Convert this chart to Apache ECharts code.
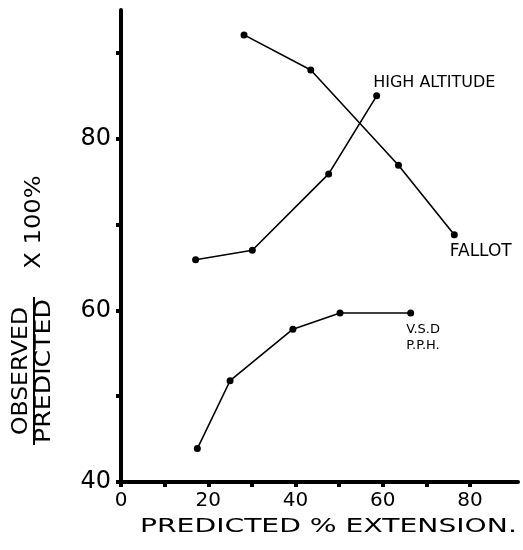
<!DOCTYPE html>
<html><head><meta charset="utf-8">
<script src="https://cdn.jsdelivr.net/npm/echarts@6/dist/echarts.min.js"></script>
<style>html,body{margin:0;padding:0;background:#fff}#c{width:523px;height:550px}</style>
</head><body><div id="c"></div>
<script>
const fallotX = [28.2, 43.5, 63.6, 76.4];
const fallotY = [92.1, 88.0, 76.9, 68.8];
const highX = [17.1, 30.1, 47.6, 58.6];
const highY = [65.9, 67.0, 75.9, 85.0];
const vsdX = [17.5, 25.0, 39.4, 50.2, 66.4];
const vsdY = [43.9, 51.8, 57.8, 59.7, 59.7];
const xTicks = [0, 10, 20, 30, 40, 50, 60, 70, 80];
const xLabels = [0, 20, 40, 60, 80];
const yTicks = [40, 50, 60, 70, 80, 90];
const yLabels = [40, 60, 80];
const xTitle = 'PREDICTED % EXTENSION.';
const yTitleTop = 'OBSERVED';
const yTitleBottom = 'PREDICTED';
const yTitleFactor = 'X 100%';
const seriesNames = ['FALLOT', 'HIGH ALTITUDE', 'V.S.D\nP.P.H.'];

const font = 'DejaVu Sans';
function pts(xs, ys){ return xs.map((x,i)=>[x, ys[i]]); }
function withLabel(data, text, fs, offset){
  const d = data.map(v=>({value:v}));
  d[d.length-1].label = {show:true, position:'right', offset:offset, formatter:text,
    fontFamily:font, fontSize:fs, color:'#000', align:'left', lineHeight:fs+3};
  return d;
}
const chart = echarts.init(document.getElementById('c'));
const lineSeries = (name, data) => ({
  type:'line', name:name, data:data, symbol:'circle', symbolSize:7,
  itemStyle:{color:'#000'}, lineStyle:{color:'#000', width:1.6},
  label:{show:false}, animation:false
});
chart.setOption({
  animation:false,
  backgroundColor:'#fff',
  grid:{left:121, right:5, top:10, bottom:68},
  xAxis:{type:'value', min:0, max:91,
    axisLine:{show:true, lineStyle:{color:'#000', width:4}},
    axisTick:{show:true, customValues:xTicks, length:5, lineStyle:{color:'#000', width:4}},
    axisLabel:{customValues:xLabels, fontFamily:font, fontSize:20, color:'#000', margin:9},
    splitLine:{show:false}},
  yAxis:{type:'value', min:40, max:95,
    axisLine:{show:true, lineStyle:{color:'#000', width:4}},
    axisTick:{show:true, customValues:yTicks, length:5, lineStyle:{color:'#000', width:4}},
    axisLabel:{customValues:yLabels, fontFamily:font, fontSize:24, color:'#000', margin:10},
    splitLine:{show:false}},
  graphic:[
    {type:'text', left:140, top:517, style:{text:xTitle, fontFamily:font, fontSize:20, fill:'#000'}, scaleX:1.41},
    {type:'group', x:34, y:371, rotation:Math.PI/2, children:[
      {type:'text', x:0, y:-12, scaleX:1.12, style:{text:yTitleTop, fontFamily:font, fontSize:21, fill:'#000', align:'center', verticalAlign:'middle'}},
      {type:'line', shape:{x1:-74, y1:0, x2:74, y2:0}, style:{stroke:'#000', lineWidth:2}},
      {type:'text', x:0, y:11, scaleX:1.2, style:{text:yTitleBottom, fontFamily:font, fontSize:21, fill:'#000', align:'center', verticalAlign:'middle'}}
    ]},
    {type:'text', x:35, y:222, rotation:Math.PI/2, scaleX:1.15, style:{text:yTitleFactor, fontFamily:font, fontSize:21, fill:'#000', align:'center', verticalAlign:'middle'}}
  ],
  series:[
    lineSeries(seriesNames[0], withLabel(pts(fallotX, fallotY), seriesNames[0], 17, [-13, 17])),
    lineSeries(seriesNames[1], withLabel(pts(highX, highY), seriesNames[1], 16, [-12, -13])),
    lineSeries(seriesNames[2], withLabel(pts(vsdX, vsdY), seriesNames[2], 13, [-13, 25]))
  ]
});
</script></body></html>
